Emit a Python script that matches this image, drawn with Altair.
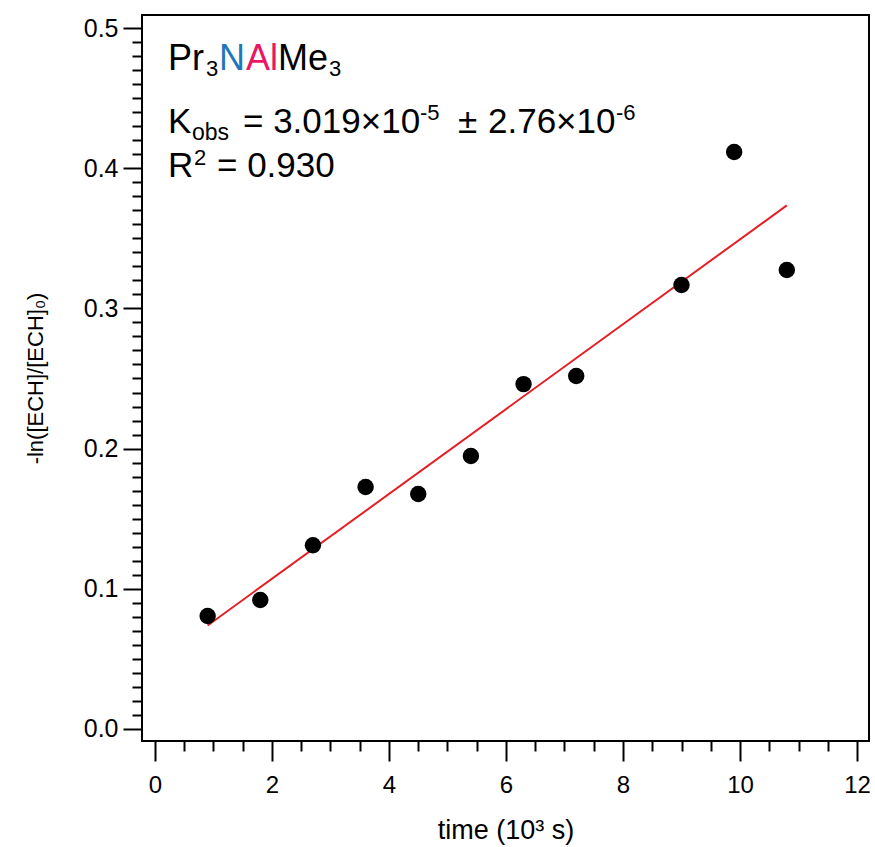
import altair as alt
import pandas as pd

# ---- data ----
time_k = [0.9, 1.8, 2.7, 3.6, 4.5, 5.4, 6.3, 7.2, 9.0, 9.9, 10.8]
neg_ln = [0.0806, 0.092, 0.131, 0.1726, 0.1676, 0.1947, 0.246, 0.2518, 0.3167, 0.4116, 0.3274]

x_major = [0, 2, 4, 6, 8, 10, 12]
x_minor = [v / 2 for v in range(1, 24) if v % 4 != 0]
y_major = [0.0, 0.1, 0.2, 0.3, 0.4, 0.5]
y_minor = [v / 100 for v in range(1, 50) if v % 10 != 0]

x_domain = [-0.222, 12.205]
y_domain = [-0.0086, 0.5093]

# annotation text pieces: (text, dx, dy, fontsize, colour)
anchor_x, anchor_y = 0.222, 0.470
pieces = [
    ("Pr", 0, 0, 36, "black"),
    ("3", 38, 6, 22, "black"),
    ("N", 51, 0, 36, "#1f77bb"),
    ("Al", 78, 0, 36, "#ea1764"),
    ("Me", 110, 0, 36, "black"),
    ("3", 161, 6, 22, "black"),
    ("K", 0, 63, 35, "black"),
    ("obs", 24, 70, 23, "black"),
    ("= 3.019×10", 75, 63, 35, "black"),
    ("-5", 252, 50, 22, "black"),
    ("±", 290, 63, 35, "black"),
    ("2.76×10", 320, 63, 35, "black"),
    ("-6", 448, 50, 22, "black"),
    ("R", 0, 107, 35, "black"),
    ("2", 26, 95, 22, "black"),
    ("= 0.930", 49, 107, 35, "black"),
]

df = pd.DataFrame({"t": time_k, "v": neg_ln})

FONT = "Liberation Sans"

xs = alt.Scale(domain=x_domain, nice=False, zero=False)
ys = alt.Scale(domain=y_domain, nice=False, zero=False)

x_axis_major = alt.Axis(
    orient="bottom", values=x_major, tickSize=20, tickWidth=2, tickColor="black",
    domain=False, grid=False, labelFont=FONT, labelFontSize=24, labelColor="black",
    labelPadding=12, title="time (10³ s)", titleFont=FONT, titleFontSize=27,
    titleFontWeight="normal", titleColor="black", titleBaseline="alphabetic",
    titleY=97, titleX=363.5, titleAlign="center",
)
y_axis_major = alt.Axis(
    orient="left", values=y_major, tickSize=19, tickWidth=2, tickColor="black",
    domain=False, grid=False, labelFont=FONT, labelFontSize=25, labelColor="black",
    labelPadding=5, format=".1f", title="-ln([ECH]/[ECH]₀)", titleFont=FONT,
    titleFontSize=22, titleFontWeight="normal", titleColor="black",
    titleAngle=270, titleX=-107, titleY=363, titleAlign="center", titleBaseline="middle",
)
x_axis_minor = alt.Axis(
    orient="bottom", values=x_minor, tickSize=10, tickWidth=2, tickColor="black",
    domain=False, grid=False, labels=False, title=None,
)
y_axis_minor = alt.Axis(
    orient="left", values=y_minor, tickSize=10, tickWidth=2, tickColor="black",
    domain=False, grid=False, labels=False, title=None,
)

points = alt.Chart(df).mark_circle(size=270, color="black", opacity=1).encode(
    x=alt.X("t:Q", scale=xs, axis=x_axis_major),
    y=alt.Y("v:Q", scale=ys, axis=y_axis_major),
)

fit = alt.Chart(df).transform_regression("t", "v").mark_line(
    color="#e41e24", strokeWidth=2
).encode(
    x=alt.X("t:Q", scale=xs, axis=x_axis_minor),
    y=alt.Y("v:Q", scale=ys, axis=y_axis_minor),
)

layers = [fit, points]
for text, dx, dy, fs, col in pieces:
    layers.append(
        alt.Chart(alt.Data(values=[{"label": text}])).mark_text(
            align="left", baseline="alphabetic", dx=dx, dy=dy,
            font=FONT, fontSize=fs, color=col,
        ).encode(
            x=alt.XDatum(anchor_x, scale=xs, axis=None),
            y=alt.YDatum(anchor_y, scale=ys, axis=None),
            text="label:N",
        )
    )

chart = alt.layer(*layers).resolve_axis(x="independent", y="independent").properties(
    width=727, height=726,
    autosize=alt.AutoSizeParams(type="none"),
    padding={"left": 142, "top": 15, "right": 6, "bottom": 106},
    background="white",
).configure_view(stroke="black", strokeWidth=2)

chart.save("out.html", embed_options={"renderer": "svg", "actions": False})
